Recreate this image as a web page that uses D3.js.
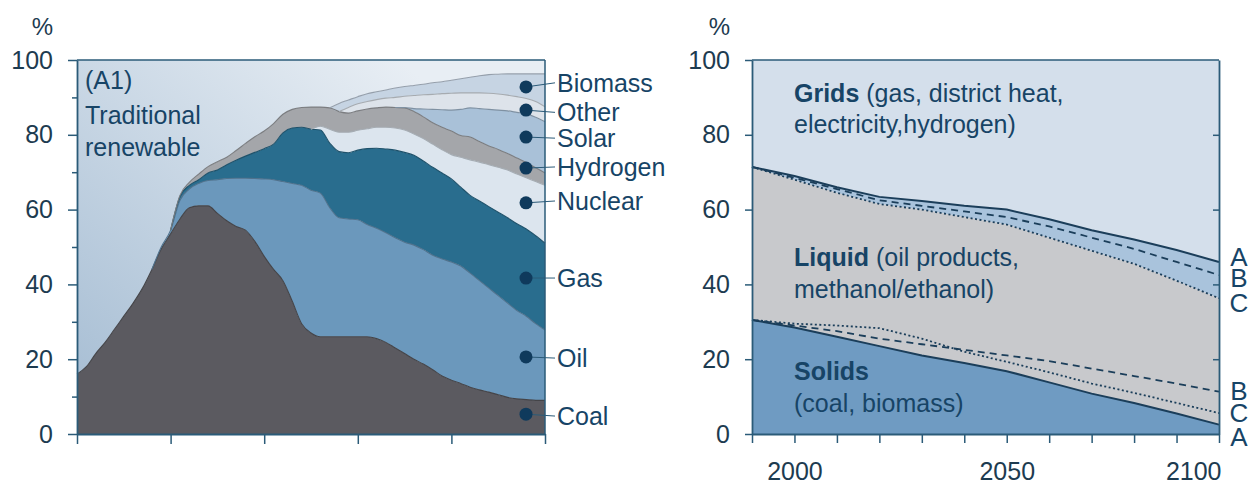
<!DOCTYPE html>
<html>
<head>
<meta charset="utf-8">
<script src="https://cdn.jsdelivr.net/npm/d3@7"></script>
<style>
  body { margin: 0; background: #fff; }
  svg { display: block; font-family: "Liberation Sans", Arial, sans-serif; }
</style>
</head>
<body>
<script>
// ---- left panel: A1 final energy shares, % ----
var years = [1850,1855,1860,1865,1870,1875,1880,1885,1890,1895,
  1900,1905,1910,1915,1920,1925,1930,1935,1940,1945,
  1950,1955,1960,1965,1970,1975,1980,1985,1990,1995,
  2000,2005,2010,2015,2020,2025,2030,2035,2040,2045,
  2050,2055,2060,2065,2070,2075,2080,2085,2090,2095,2100];

var coal = [16,18,21.5,24.5,28,31.5,35,39,44,49.5,
  53.5,57.5,60.5,61,61,59,57,55.5,54.5,51.5,
  47.5,44,41,35.5,29.5,27,26,26,26,26,
  26,26,25.5,24.5,23,21.5,20,18.7,17.2,15.5,
  14.4,13.5,12.5,11.8,11.2,10.5,9.8,9.4,9.2,9,9];
var oil = [0,0,0,0,0,0,0,0,0,0.5,
  1,5,5,6,6.8,9,11.3,12.9,13.9,16.8,
  20.7,24,26.5,31.5,37,38.2,38.4,34.5,31.8,31.5,
  31.3,30,29.5,29.3,29.5,29.8,30.5,30.6,30.6,31.3,
  31.6,31.4,30.5,29.2,27.8,26.5,25.2,23.6,22.3,20.5,18.8];
var gas = [0,0,0,0,0,0,0,0,0,0,
  0,1,1,1,2,2.6,3.7,4.8,5.9,7,
  8.1,9.5,13,14.8,15.5,16.3,16.9,17.3,17.7,17.7,
  18.6,20.3,21.4,22.4,23.4,24,24,23.7,23.5,23,
  22.2,21.1,20.8,21.3,21.8,22.3,22.8,23.2,23.3,23.5,23.2];
var nuclear = [0,0,0,0,0,0,0,0,0,0,
  0,0,0,0,0,0,0,0,0,0,
  0,0,0,0,0,0,1,3.7,5.2,5.5,
  5.3,5.3,5.6,5.8,5.9,6,5.7,6,6.2,6.2,
  6.5,8,9.5,10.4,11.2,12,12.8,13.3,13.7,14.5,15.5];
var hydrogen = [0,0,0,0,0,0,0,0,0,0,
  0,0.3,0.8,1.5,1.7,2.2,2,2.6,3.4,4.2,
  4.7,5.5,5,5,5.3,5.9,5.1,5.7,5.5,5.1,
  5.2,5.3,5.2,5.4,5.5,5.9,6,5.8,5.7,6,
  6.3,5.8,6.1,5.5,5,4.8,4.4,4.3,4.1,3.7,3.3];
var solar = [0,0,0,0,0,0,0,0,0,0,
  0,0,0,0,0,0,0,0,0,0,
  0,0,0,0,0,0,0,0,0,0,
  0,0,0,0,0,0.1,0.8,2.1,3.6,4.7,
  5.6,7,7.8,8.8,9.8,10.5,11.4,12.2,13,13.5,13.7];
var other = [0,0,0,0,0,0,0,0,0,0,
  0,0,0,0,0,0,0,0,0,0,
  0,0,0,0,0,0,0,0,0,1.5,
  1.9,2,2.2,2.4,2.7,3,3.5,3.8,4,4.3,
  4.5,4.4,4,4.2,4.3,4.3,4.2,4.2,4.1,4.2,4];
var biomass = [0,0,0,0,0,0,0,0,0,0,
  0,0,0,0,0,0,0,0,0,0,
  0,0,0,0,0,0,0,0,2.2,2,
  1.9,2.1,2.1,2.2,2.5,2.6,2.7,2.8,3.1,3.2,
  3.5,3.8,4.2,4.6,5,5.3,5.7,6.1,6.6,7.4,8.8];

var sourceNames = ["Biomass","Other","Solar","Hydrogen","Nuclear","Gas","Oil","Coal"];

// ---- right panel: final energy by form, scenarios A/B/C ----
var formYears = [1990,2000,2010,2020,2030,2040,2050,2060,2070,2080,2090,2100];
// top of liquids (solids + liquids), %
var liquidTopA = [71.4,69,66,63.4,62.3,61,60,57.4,54.5,52,49.2,46];
var liquidTopB = [71.4,68.5,65.5,62.5,61,59.5,58,55.5,52.5,49.5,46,42.5];
var liquidTopC = [71.4,68,64.5,61.5,60,58,56,52.5,49,45.5,41,36.3];
// top of solids, %
var solidTopA = [30.5,28.5,26,23.5,21,19,16.8,13.8,10.8,8.3,5.5,2.5];
var solidTopB = [30.5,29,27.5,25.5,24,22.5,21,19.5,17.5,15.5,13.5,11.3];
var solidTopC = [30.5,29.5,29,28.3,25.5,22,19.3,16.5,13.5,11,8.3,5.6];

var yTicks = [0,20,40,60,80,100];
var yMinor = [10,30,50,70,90];
var xTicksLeft = [1850,1900,1950,2000,2050,2100];
var xLabelsRight = [2000,2050,2100];

var W = 1256, H = 483;
var plotTop = 60, plotBottom = 434;
var axisCol = "#2b5b78", tickText = "#1d3b50", labelCol = "#174466";

var svg = d3.select("body").append("svg").attr("width", W).attr("height", H);

var y = d3.scaleLinear().domain([0, 100]).range([plotBottom, plotTop]);

// ================= left panel =================
var x = d3.scaleLinear().domain([1850, 2100]).range([77, 545]);

var series = {coal: coal, oil: oil, gas: gas, nuclear: nuclear, hydrogen: hydrogen,
  solar: solar, other: other, biomass: biomass};
var keys = ["coal","oil","gas","nuclear","hydrogen","solar","other","biomass","trad"];
var fills = {coal: "#5b5a60", oil: "#6b98bc", gas: "#296d8e", nuclear: "#dce5ee",
  hydrogen: "#a4a6aa", solar: "#a9c1d8", other: "#dde3ea", biomass: "#c6d4e3"};

var table = years.map(function(yr, i) {
  var row = {year: yr}, sum = 0;
  keys.slice(0, 8).forEach(function(k) { row[k] = series[k][i]; sum += series[k][i]; });
  row.trad = 100 - sum;
  return row;
});

var stack = d3.stack().keys(keys)(table);

var defs = svg.append("defs");
var grad = defs.append("linearGradient").attr("id", "trad")
  .attr("gradientUnits", "userSpaceOnUse")
  .attr("x1", 77).attr("y1", plotBottom).attr("x2", 400).attr("y2", plotTop);
grad.append("stop").attr("offset", 0).attr("stop-color", "#a3bbd2");
grad.append("stop").attr("offset", 1).attr("stop-color", "#e8eef4");

function present(k) {
  if (k === "trad") return function() { return true; };
  var v = series[k];
  return function(d, i) { return v[i] > 0 || (i + 1 < v.length && v[i + 1] > 0); };
}

var left = svg.append("g");

stack.forEach(function(layer) {
  var k = layer.key;
  var area = d3.area()
    .defined(present(k))
    .x(function(d) { return x(d.data.year); })
    .y0(function(d) { return y(d[0]); })
    .y1(function(d) { return y(d[1]); })
    .curve(d3.curveMonotoneX);
  left.append("path").datum(layer)
    .attr("d", area)
    .attr("fill", k === "trad" ? "url(#trad)" : fills[k]);
});

// boundary lines on top of each layer
stack.slice(0, 8).forEach(function(layer) {
  var k = layer.key;
  var line = d3.line()
    .defined(present(k))
    .x(function(d) { return x(d.data.year); })
    .y(function(d) { return y(d[1]); })
    .curve(d3.curveMonotoneX);
  left.append("path").datum(layer)
    .attr("d", line)
    .attr("fill", "none")
    .attr("stroke", d3.color(fills[k]).darker(0.8))
    .attr("stroke-width", 1.1);
});

// frame
left.append("line").attr("x1", 77).attr("x2", 545).attr("y1", plotTop).attr("y2", plotTop)
  .attr("stroke", axisCol).attr("stroke-width", 1.5);
left.append("line").attr("x1", 545).attr("x2", 545).attr("y1", plotTop).attr("y2", plotBottom)
  .attr("stroke", axisCol).attr("stroke-width", 1.5);

left.append("g").attr("transform", "translate(77,0)")
  .call(d3.axisLeft(y).tickValues(yTicks).tickSize(9).tickPadding(15).tickSizeOuter(0));
left.append("g").attr("transform", "translate(77,0)")
  .call(d3.axisLeft(y).tickValues(yMinor).tickSize(5).tickFormat("").tickSizeOuter(0))
  .select(".domain").remove();
left.append("g").attr("transform", "translate(0," + plotBottom + ")")
  .call(d3.axisBottom(x).tickValues(xTicksLeft).tickSize(10).tickFormat("").tickSizeOuter(0));

// labels inside
var inner = left.append("g").attr("fill", labelCol).style("font-size", "25px");
inner.append("text").attr("x", 85).attr("y", 89).text("(A1)");
inner.append("text").attr("x", 85).attr("y", 124).text("Traditional");
inner.append("text").attr("x", 85).attr("y", 156).text("renewable");

// source tags at the right edge: dot height, text centre (in %)
var tagDot = [92.8, 86.6, 79.4, 71.1, 61.8, 41.7, 20.6, 5.3];
var tagText = [93.9, 86, 79.1, 71.4, 62.3, 41.7, 20.3, 4.8];
var tags = left.append("g");
sourceNames.forEach(function(n, i) {
  var dy = y(tagDot[i]);
  tags.append("line").attr("x1", 526).attr("x2", 555).attr("y1", dy).attr("y2", y(tagText[i]))
    .attr("stroke", "#2a5a78").attr("stroke-width", 1);
  tags.append("circle").attr("cx", 526).attr("cy", dy).attr("r", 6.5).attr("fill", "#0f3a5c");
  tags.append("text").attr("x", 557).attr("y", y(tagText[i]) + 9)
    .attr("fill", labelCol).style("font-size", "25px").text(n);
});

svg.append("text").attr("x", 53).attr("y", 35).attr("text-anchor", "end")
  .attr("fill", tickText).style("font-size", "24px").text("%");

// ================= right panel =================
var x2 = d3.scaleLinear().domain([1990, 2100]).range([752, 1219]);
var rows = formYears.map(function(yr, i) {
  return {year: yr, la: liquidTopA[i], lb: liquidTopB[i], lc: liquidTopC[i],
    sa: solidTopA[i], sb: solidTopB[i], sc: solidTopC[i]};
});

var right = svg.append("g");
right.append("rect").attr("x", x2(1990)).attr("y", y(100))
  .attr("width", x2(2100) - x2(1990)).attr("height", y(0) - y(100))
  .attr("fill", "#d4dfeb");

function band(lo, hi) {
  return d3.area().x(function(d) { return x2(d.year); })
    .y0(function(d) { return y(lo(d)); }).y1(function(d) { return y(hi(d)); });
}
right.append("path").datum(rows).attr("fill", "#a9c3dc")
  .attr("d", band(function(d) { return d.lc; }, function(d) { return d.la; }));
right.append("path").datum(rows).attr("fill", "#c8c9cc")
  .attr("d", band(function(d) { return d.sa; }, function(d) { return d.lc; }));
right.append("path").datum(rows).attr("fill", "#6f9bc2")
  .attr("d", band(function() { return 0; }, function(d) { return d.sa; }));

var styles = {a: null, b: "7,5", c: "2,2.5"};
["la","lb","lc","sa","sb","sc"].forEach(function(k) {
  var line = d3.line().x(function(d) { return x2(d.year); }).y(function(d) { return y(d[k]); });
  right.append("path").datum(rows).attr("d", line)
    .attr("fill", "none").attr("stroke", "#1b3e5a")
    .attr("stroke-width", k[1] === "a" ? 2 : 1.8)
    .attr("stroke-dasharray", styles[k[1]]);
});

right.append("line").attr("x1", 752).attr("x2", 1219).attr("y1", plotTop).attr("y2", plotTop)
  .attr("stroke", axisCol).attr("stroke-width", 1.5);
right.append("g").attr("transform", "translate(1219,0)")
  .call(d3.axisRight(y).tickValues([20,40,60,80]).tickSize(-6).tickFormat("").tickSizeOuter(0));
right.append("g").attr("transform", "translate(752,0)")
  .call(d3.axisLeft(y).tickValues(yTicks).tickSize(7).tickPadding(15).tickSizeOuter(0));
var xAxisR = right.append("g").attr("transform", "translate(0," + plotBottom + ")")
  .call(d3.axisBottom(x2).tickValues(d3.range(1990, 2101, 10)).tickSize(9).tickPadding(19)
    .tickSizeOuter(0)
    .tickFormat(function(d) { return xLabelsRight.indexOf(d) >= 0 ? d : ""; }));
xAxisR.selectAll(".tick text").filter(function(d) { return d === 2100; })
  .attr("text-anchor", "end").attr("x", 2);

svg.append("text").attr("x", 730).attr("y", 35).attr("text-anchor", "end")
  .attr("fill", tickText).style("font-size", "24px").text("%");

var rt = right.append("g").attr("fill", labelCol).style("font-size", "25px");
function twoPart(xx, yy, bold, rest) {
  var t = rt.append("text").attr("x", xx).attr("y", yy);
  t.append("tspan").attr("font-weight", "bold").text(bold);
  t.append("tspan").text(rest);
}
twoPart(794, 102, "Grids", " (gas, district heat,");
rt.append("text").attr("x", 794).attr("y", 133).text("electricity,hydrogen)");
twoPart(794, 266, "Liquid", " (oil products,");
rt.append("text").attr("x", 794).attr("y", 298).text("methanol/ethanol)");
twoPart(794, 380, "Solids", "");
rt.append("text").attr("x", 794).attr("y", 412).text("(coal, biomass)");

// scenario letters
var abc = right.append("g").attr("fill", labelCol).style("font-size", "26px")
  .attr("text-anchor", "middle");
[["A", 266], ["B", 287], ["C", 312], ["B", 400], ["C", 422], ["A", 446]].forEach(function(p) {
  abc.append("text").attr("x", 1239).attr("y", p[1]).text(p[0]);
});

// axis styling
svg.selectAll(".domain").attr("stroke", axisCol).attr("stroke-width", 1.8);
svg.selectAll(".tick line").attr("stroke", axisCol).attr("stroke-width", 1.5);
svg.selectAll(".tick text").attr("fill", tickText).style("font-size", "25px")
  .style("font-family", "'Liberation Sans', Arial, sans-serif");
</script>
</body>
</html>
